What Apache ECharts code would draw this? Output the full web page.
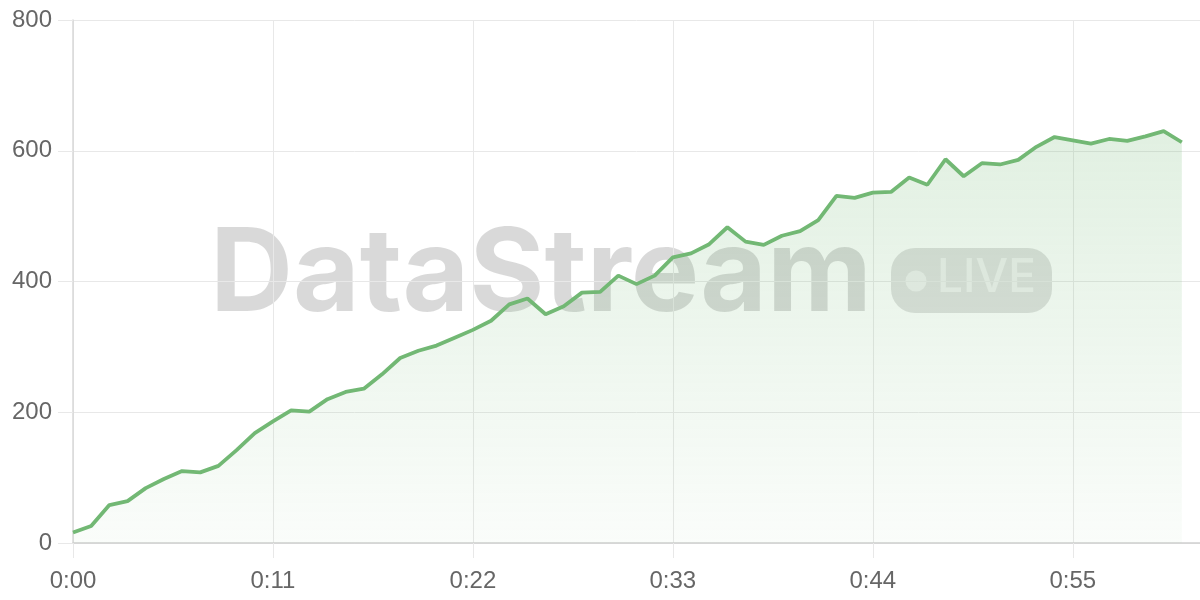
<!DOCTYPE html>
<html>
<head>
<meta charset="utf-8">
<title>DataStream live</title>
<script src="https://cdn.jsdelivr.net/npm/echarts@6/dist/echarts.min.js"></script>
<style>
  html, body { margin: 0; padding: 0; background: #fff; }
  #chart { width: 1200px; height: 600px; }
</style>
</head>
<body>
<div id="chart"></div>
<script>
// elapsed seconds and the running count
var seconds = [0, 1, 2, 3, 4, 5, 6, 7, 8, 9, 10, 11, 12, 13, 14, 15, 16, 17, 18, 19,
  20, 21, 22, 23, 24, 25, 26, 27, 28, 29, 30, 31, 32, 33, 34, 35, 36, 37, 38, 39,
  40, 41, 42, 43, 44, 45, 46, 47, 48, 49, 50, 51, 52, 53, 54, 55, 56, 57, 58, 59,
  60, 61];
var counts = [16, 26, 58, 64, 84, 98, 110, 108, 118, 142, 168, 186, 203, 201, 220, 231, 236, 258, 283, 294,
  302, 314, 326, 340, 365, 374, 350, 362, 383, 384, 409, 396, 409, 437, 443, 457, 483, 461, 456, 470,
  477, 494, 531, 528, 536, 537, 559, 548, 587, 561, 581, 579, 586, 606, 621, 616, 611, 618, 615, 622,
  630, 613];
var yTicks = [0, 200, 400, 600, 800];

var points = seconds.map(function (s, i) { return [s, counts[i]]; });

function fmtTime(v) {
  var m = Math.floor(v / 60), s = v % 60;
  return m + ':' + (s < 10 ? '0' : '') + s;
}

var gridColor = '#e8e8e8';
var labelStyle = { color: '#666', fontSize: 24, fontFamily: 'Liberation Sans, Arial, sans-serif' };

var chart = echarts.init(document.getElementById('chart'));
chart.setOption({
  animation: false,
  grid: { left: 73, right: 0, top: 20, bottom: 57, containLabel: false },
  xAxis: {
    type: 'value',
    min: 0,
    max: 62,
    interval: 11,
    axisLine: { show: true, lineStyle: { color: '#cfcfcf', width: 1.5 } },
    axisTick: { show: true, length: 15, lineStyle: { color: gridColor } },
    splitLine: { show: true, lineStyle: { color: gridColor } },
    axisLabel: Object.assign({
      margin: 26,
      showMaxLabel: false,
      formatter: function (v) { return v % 11 === 0 ? fmtTime(v) : ''; }
    }, labelStyle)
  },
  yAxis: {
    type: 'value',
    min: yTicks[0],
    max: yTicks[yTicks.length - 1],
    interval: 200,
    axisLine: { show: true, lineStyle: { color: '#d8d8d8', width: 1.5 } },
    axisTick: { show: true, length: 15, lineStyle: { color: gridColor } },
    splitLine: { show: true, lineStyle: { color: gridColor } },
    axisLabel: Object.assign({ margin: 21 }, labelStyle)
  },
  graphic: [
    {
      type: 'text',
      z: 0,
      left: 210,
      top: 219,
      silent: true,
      style: {
        text: 'DataStream',
        fontFamily: 'Inter, Noto Sans, sans-serif',
        fontWeight: 'bold',
        fontSize: 115,
        fill: 'rgba(0,0,0,0.15)'
      }
    },
    {
      type: 'rect',
      z: 0,
      silent: true,
      shape: { x: 891, y: 248, width: 161, height: 65, r: 24 },
      style: { fill: 'rgba(0,0,0,0.12)' }
    },
    {
      type: 'circle',
      z: 0,
      silent: true,
      shape: { cx: 916, cy: 281, r: 10.5 },
      style: { fill: 'rgba(255,255,255,0.5)' }
    },
    {
      type: 'text',
      z: 0,
      silent: true,
      left: 937,
      top: 255,
      style: {
        text: 'LIVE',
        fontFamily: 'Inter, Noto Sans, sans-serif',
        fontWeight: 500,
        fontSize: 46,
        fill: 'rgba(255,255,255,0.5)'
      }
    }
  ],
  series: [{
    type: 'line',
    data: points,
    showSymbol: false,
    symbol: 'none',
    z: 3,
    lineStyle: { color: '#72b874', width: 3.8 },
    areaStyle: {
      color: new echarts.graphic.LinearGradient(0, 0, 0, 1, [
        { offset: 0, color: 'rgba(114,184,116,0.30)' },
        { offset: 1, color: 'rgba(114,184,116,0.05)' }
      ])
    }
  }]
});
window.addEventListener('resize', function () { chart.resize(); });
</script>
</body>
</html>
